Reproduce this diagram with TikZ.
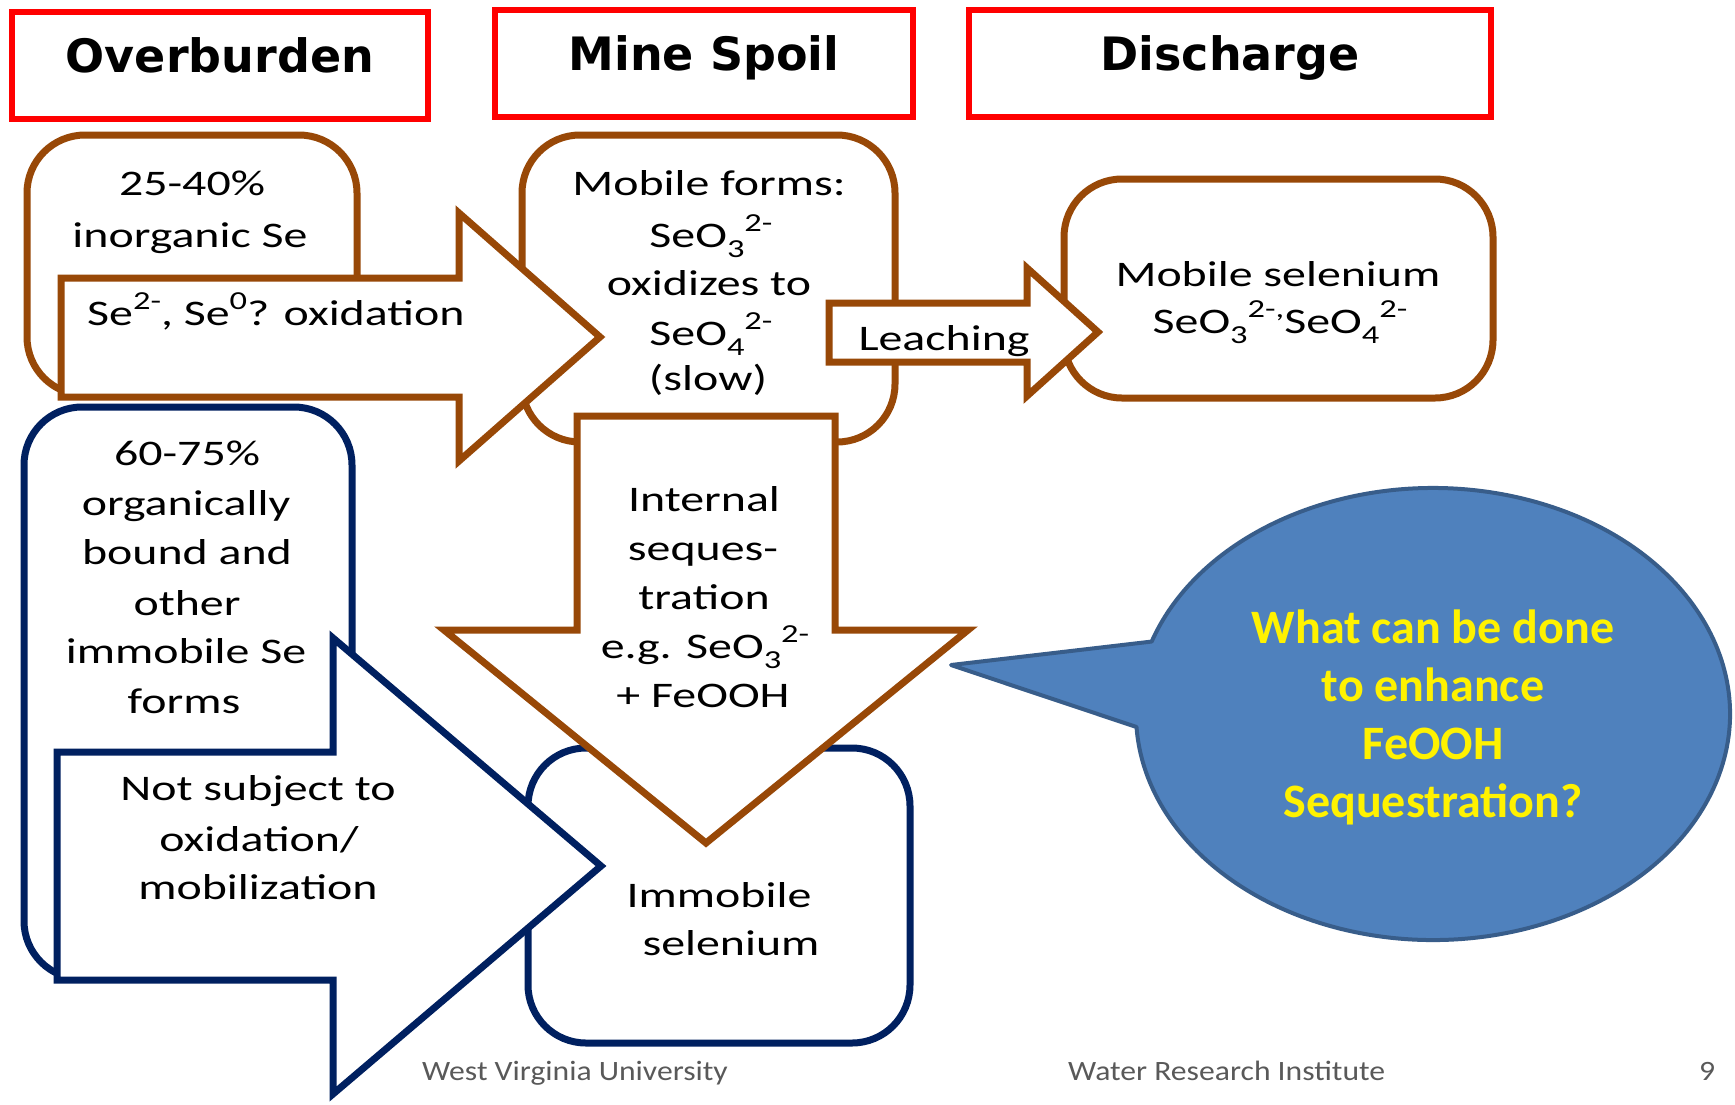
\documentclass[tikz,border=0pt]{standalone}
\usepackage{fontspec}
\usepackage{graphicx}
\newfontfamily\bodyf{Carlito}[FakeStretch=1.33]
\newfontfamily\bubf{Carlito}
\newfontfamily\headf{DejaVu Sans}
\newfontfamily\footf{Carlito}[FakeStretch=1.13]
\usetikzlibrary{calc}
\definecolor{redc}{HTML}{FF0000}
\definecolor{brownc}{HTML}{984807}
\definecolor{navyc}{HTML}{002060}
\definecolor{bubfill}{HTML}{4F81BD}
\definecolor{bubline}{HTML}{385D8A}
\definecolor{footc}{HTML}{595959}
\newcommand\supx[1]{\raisebox{0.44em}{\scalebox{0.72}{#1}}}
\newcommand\subx[1]{\raisebox{-0.28em}{\scalebox{0.72}{#1}}}
\begin{document}
\begin{tikzpicture}[x=1pt,y=-1pt,
  hdr/.style={draw=redc,line width=6pt},
  bbox/.style={draw=brownc,line width=7pt,fill=white,rounded corners=58pt},
  nbox/.style={draw=navyc,line width=7pt,fill=white,rounded corners=58pt},
  barrow/.style={draw=brownc,line width=7pt,fill=white,line join=miter},
  narrow/.style={draw=navyc,line width=7pt,fill=white,line join=miter},
  bubble/.style={draw=bubline,line width=4pt,fill=bubfill,line join=round},
  hd/.style={font=\headf\bfseries\fontsize{46}{55}\selectfont,anchor=base,inner sep=0pt},
  tx/.style={font=\bodyf\fontsize{36}{48}\selectfont,anchor=base,inner sep=0pt},
  bt/.style={font=\bubf\bfseries\fontsize{48}{58}\selectfont,text=yellow,anchor=base,inner sep=0pt},
  ft/.style={font=\footf\fontsize{28}{32}\selectfont,text=footc,inner sep=0pt}]
\useasboundingbox[fill=white] (0,0) rectangle (1735,1104);

% header boxes
\draw[hdr] (12,12) rectangle (428,119);
\draw[hdr] (495,10) rectangle (913,117);
\draw[hdr] (969,10) rectangle (1491,117);

% rounded boxes
\draw[bbox] (27,135) rectangle (357,395);
\draw[bbox] (522,135) rectangle (895,442);
\draw[bbox] (1064,179) rectangle (1493,398);
\draw[nbox] (24,407) rectangle (352,979);
\draw[nbox] (528,748) rectangle (910,1043);

% block arrows
\draw[barrow] (61,278) -- (459,278) -- (459,213) -- (600,337) -- (459,461) -- (459,397) -- (61,397) -- cycle;
\draw[barrow] (829,303) -- (1027,303) -- (1027,268) -- (1098,332) -- (1027,396) -- (1027,362) -- (829,362) -- cycle;
\draw[barrow] (577,416) -- (835,416) -- (835,630) -- (968,630) -- (706,843) -- (444,630) -- (577,630) -- cycle;
\draw[narrow] (57,752) -- (333,752) -- (333,638) -- (601,866) -- (333,1094) -- (333,980) -- (57,980) -- cycle;

% speech bubble
\coordinate (bc) at (1433,714);
\coordinate (btip) at (951,665);
\draw[bubble] ($(bc)+(198.7:297 and 226)$) arc[start angle=198.7,end angle=536.7,x radius=297,y radius=226] -- (btip) -- cycle;

% headers
\node[hd] (h1) at (220,72) {Overburden};
\node[hd] (h2) at (704,70) {Mine Spoil};
\node[hd] (h3) at (1230,70) {Discharge};

% box A
\node[tx] (a1) at (192,195) {25-40\%};
\node[tx] (a2) at (190,247) {inorganic Se};
\node[tx,anchor=base west] (ox) at (87,325) {Se\supx{2-}, Se\supx{0}? oxidation};

% box B
\node[tx] (b1) at (709,195) {Mobile forms:};
\node[tx] (b2) at (711,247) {SeO\subx{3}\supx{2-}};
\node[tx] (b3) at (709,295) {oxidizes to};
\node[tx] (b4) at (711,345) {SeO\subx{4}\supx{2-}};
\node[tx] (b5) at (708,390) {(slow)};

% leaching and box C
\node[tx] (le) at (944,350) {Leaching};
\node[tx] (c1) at (1278,286) {Mobile selenium};
\node[tx] (c2) at (1280,333) {SeO\subx{3}\supx{2-,}SeO\subx{4}\supx{2-}};

% blue box
\node[tx] (d1) at (187,465) {60-75\%};
\node[tx] (d2) at (186,515) {organically};
\node[tx] (d3) at (187,564) {bound and};
\node[tx] (d4) at (187,615) {other};
\node[tx] (d5) at (186,663) {immobile Se};
\node[tx] (d6) at (184,713) {forms};

% not subject arrow
\node[tx] (n1) at (258,800) {Not subject to};
\node[tx] (n2) at (259,851) {oxidation/};
\node[tx] (n3) at (258,899) {mobilization};

% internal sequestration
\node[tx] (s1) at (704,511) {Internal};
\node[tx] (s2) at (703,560) {seques-};
\node[tx] (s3) at (704,609) {tration};
\node[tx] (s4) at (705,658) {e.g. SeO\subx{3}\supx{2-}};
\node[tx] (s5) at (703,707) {+ FeOOH};

% immobile selenium
\node[tx] (i1) at (719,907) {Immobile};
\node[tx] (i2) at (731,955) {selenium};

% bubble text
\node[bt] (q1) at (1433,643) {What can be done};
\node[bt] (q2) at (1433,701) {to enhance};
\node[bt] (q3) at (1433,759) {FeOOH};
\node[bt] (q4) at (1433,817) {Sequestration?};

% footer
\node[ft,anchor=base west] (f1) at (422,1080) {West Virginia University};
\node[ft,anchor=base west] (f2) at (1068,1080) {Water Research Institute};
\node[ft,anchor=base] (f3) at (1707,1080) {9};
\end{tikzpicture}
\end{document}
